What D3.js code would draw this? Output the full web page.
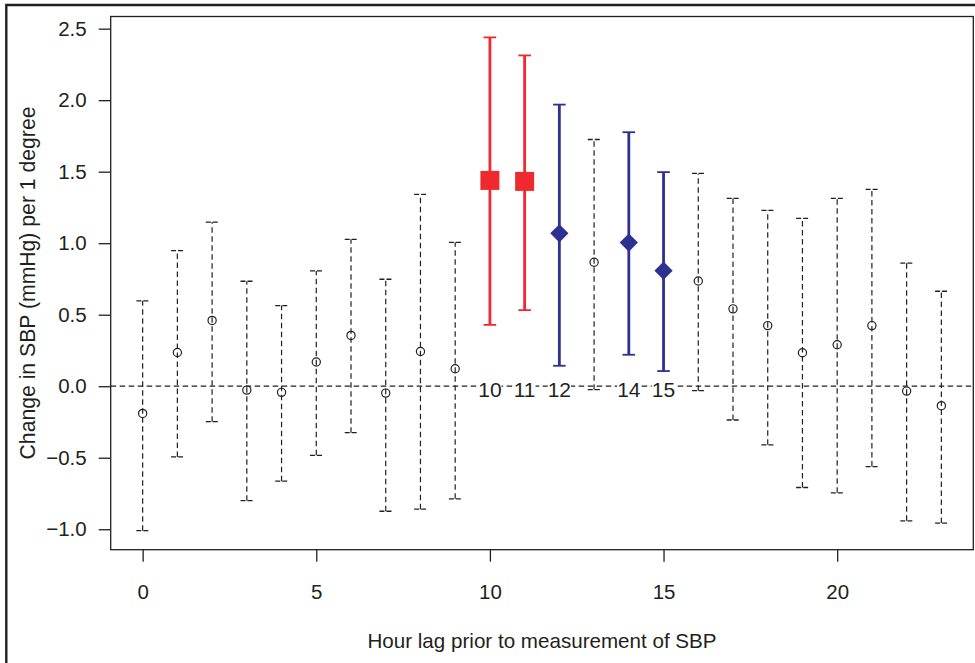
<!DOCTYPE html>
<html>
<head>
<meta charset="utf-8">
<script src="https://cdn.jsdelivr.net/npm/d3@7"></script>
<style>
  html, body { margin: 0; padding: 0; background: #fff; }
  svg { display: block; }
  text { font-family: "Liberation Sans", Arial, Helvetica, sans-serif; fill: #231f20; }
</style>
</head>
<body>
<svg id="chart" width="975" height="663"></svg>
<script>
// ---- data ----
const hours = [0,1,2,3,4,5,6,7,8,9,10,11,12,13,14,15,16,17,18,19,20,21,22,23];
const estimate = [-0.19, 0.236, 0.46, -0.027, -0.043, 0.169, 0.355, -0.048, 0.243, 0.122,
                  1.439, 1.432, 1.069, 0.867, 1.004, 0.808, 0.736, 0.541, 0.424, 0.234,
                  0.29, 0.424, -0.034, -0.136];
const lowerCI = [-1.01, -0.494, -0.248, -0.80, -0.664, -0.483, -0.325, -0.874, -0.86, -0.787,
                 0.429, 0.532, 0.143, -0.024, 0.22, 0.106, -0.031, -0.236, -0.41, -0.708,
                 -0.745, -0.562, -0.941, -0.957];
const upperCI = [0.597, 0.948, 1.148, 0.734, 0.564, 0.806, 1.027, 0.748, 1.341, 1.006,
                 2.439, 2.313, 1.969, 1.725, 1.776, 1.497, 1.488, 1.313, 1.23, 1.174,
                 1.313, 1.376, 0.86, 0.664];
const redHours = [10, 11];
const blueHours = [12, 14, 15];
const labelHours = [10, 11, 12, 14, 15];
const xTicks = [0, 5, 10, 15, 20];
const yTicks = [-1.0, -0.5, 0.0, 0.5, 1.0, 1.5, 2.0, 2.5];
const xTitle = "Hour lag prior to measurement of SBP";
const yTitle = "Change in SBP (mmHg) per 1 degree";

// ---- layout ----
const INK = "#231f20", RED = "#ee2a2f", BLUE = "#2e3192";
const plot = { left: 110.7, right: 973.3, top: 16.5, bottom: 549.7 };
const svg = d3.select("#chart");

const x = d3.scaleLinear().domain([-0.92, 23.92]).range([plot.left, plot.right]);
const y = d3.scaleLinear().domain([-1.143, 2.585]).range([plot.bottom, plot.top]);

// outer frame (left and top edges)
svg.append("path")
  .attr("d", `M6.3,663 L6.3,5 L975,5`)
  .attr("fill", "none").attr("stroke", INK).attr("stroke-width", 2.4);

const DASH = "5.5,3.5";
// zero line
svg.append("line")
  .attr("x1", plot.left).attr("x2", plot.right)
  .attr("y1", y(0)).attr("y2", y(0))
  .attr("stroke", INK).attr("stroke-width", 1.2).attr("stroke-dasharray", DASH);

const data = hours.map((h, i) => ({
  h, est: estimate[i], lo: lowerCI[i], hi: upperCI[i],
  type: redHours.includes(h) ? "red" : blueHours.includes(h) ? "blue" : "plain"
}));

const capW = 6.3;
// error bars
const bars = svg.append("g");
data.forEach(d => {
  const g = bars.append("g");
  const cx = x(d.h);
  if (d.type === "plain") {
    g.append("line").attr("x1", cx).attr("x2", cx).attr("y1", y(d.lo)).attr("y2", y(d.hi))
      .attr("stroke", INK).attr("stroke-width", 1.2).attr("stroke-dasharray", DASH);
    [d.lo, d.hi].forEach(v => {
      g.append("path").attr("d", `M${cx - capW},${y(v)} L${cx},${y(v)} L${cx + capW},${y(v)}`)
        .attr("fill", "none").attr("stroke", INK).attr("stroke-width", 1.3)
        .attr("stroke-dasharray", "5,2");
    });
  } else {
    const col = d.type === "red" ? RED : BLUE;
    g.append("line").attr("x1", cx).attr("x2", cx).attr("y1", y(d.lo)).attr("y2", y(d.hi))
      .attr("stroke", col).attr("stroke-width", 2.8);
    [d.lo, d.hi].forEach(v => {
      g.append("line").attr("x1", cx - capW).attr("x2", cx + capW).attr("y1", y(v)).attr("y2", y(v))
        .attr("stroke", col).attr("stroke-width", 1.8);
    });
  }
});

// points
const pts = svg.append("g");
data.forEach(d => {
  const cx = x(d.h), cy = y(d.est);
  if (d.type === "plain") {
    pts.append("circle").attr("cx", cx).attr("cy", cy).attr("r", 4.1)
      .attr("fill", "none").attr("stroke", INK).attr("stroke-width", 1.2);
  } else if (d.type === "red") {
    pts.append("path").attr("d", d3.symbol(d3.symbolSquare, 19 * 19)())
      .attr("transform", `translate(${cx},${cy})`).attr("fill", RED);
  } else {
    pts.append("path").attr("d", d3.symbol(d3.symbolSquare, 12.9 * 12.9)())
      .attr("transform", `translate(${cx},${cy}) rotate(45)`).attr("fill", BLUE);
  }
});

// hour labels on the zero line
const lab = svg.append("g");
labelHours.forEach(h => {
  const t = lab.append("text").attr("x", x(h)).attr("y", y(0) + 11)
    .attr("text-anchor", "middle").attr("font-size", 21).text(h);
  const bb = t.node().getBBox();
  lab.insert("rect", () => t.node())
    .attr("x", bb.x).attr("y", y(0) - 2.5).attr("width", bb.width).attr("height", 5)
    .attr("fill", "#fff");
});

// plot box
svg.append("rect")
  .attr("x", plot.left).attr("y", plot.top)
  .attr("width", plot.right - plot.left).attr("height", plot.bottom - plot.top)
  .attr("fill", "none").attr("stroke", INK).attr("stroke-width", 1.3);

// axes
const yAxis = svg.append("g").attr("transform", `translate(${plot.left},0)`)
  .call(d3.axisLeft(y).tickValues(yTicks).tickFormat(d3.format(".1f")).tickSize(12).tickPadding(12));
const xAxis = svg.append("g").attr("transform", `translate(0,${plot.bottom})`)
  .call(d3.axisBottom(x).tickValues(xTicks).tickFormat(d3.format("d")).tickSize(12).tickPadding(23));
[yAxis, xAxis].forEach(a => {
  a.select(".domain").remove();
  a.selectAll(".tick line").attr("stroke", INK).attr("stroke-width", 1.3);
  a.selectAll(".tick text").attr("fill", INK).attr("font-size", 20.5)
    .attr("font-family", "'Liberation Sans', Arial, sans-serif");
});

// titles
svg.append("text").attr("x", (plot.left + plot.right) / 2).attr("y", 648)
  .attr("text-anchor", "middle").attr("font-size", 20.6).text(xTitle);
svg.append("text").attr("transform", `translate(35,283) rotate(-90)`)
  .attr("text-anchor", "middle").attr("font-size", 21.2).text(yTitle);
</script>
</body>
</html>
